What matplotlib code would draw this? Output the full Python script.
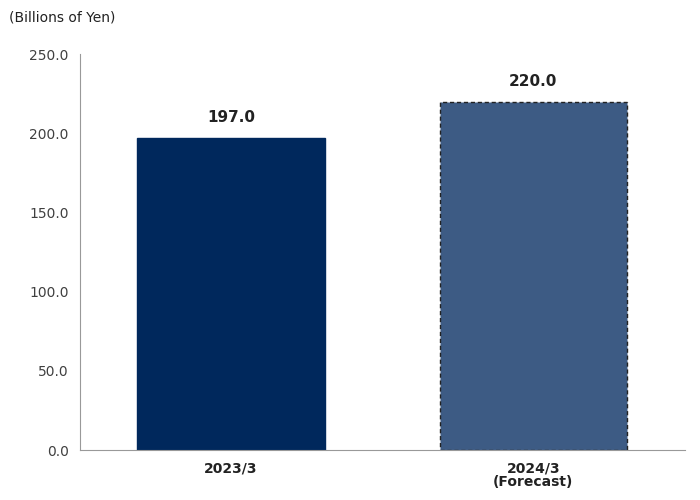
import matplotlib
matplotlib.use("Agg")
import matplotlib.pyplot as plt

categories = ["2023/3", "2024/3\n(Forecast)"]
values = [197.0, 220.0]
yticks = [0.0, 50.0, 100.0, 150.0, 200.0, 250.0]

fig = plt.figure(figsize=(7, 5), dpi=100)
ax = fig.add_axes([0.114, 0.1, 0.864, 0.792])
x = list(range(len(categories)))
colors = ["#00285C", "#3D5B84"]
edges = ["#00285C", "#222222"]
styles = ["solid", (0, (3, 2))]
for xi, v, c, e, ls in zip(x, values, colors, edges, styles):
    ax.bar(xi, v, width=0.62, color=c, edgecolor=e, linestyle=ls, linewidth=1.0)
    ax.text(xi, v + 8, f"{v:.1f}", ha="center", va="bottom", fontsize=11, fontweight="bold", color="#222222")
ax.set_xlim(-0.5, 1.5)
ax.set_ylim(0, 250)
ax.set_yticks(yticks)
ax.set_yticklabels([f"{t:.1f}" for t in yticks], color="#404040", fontsize=10)
ax.set_xticks(x)
ax.set_xticklabels(categories, fontsize=10, fontweight="bold", color="#222222", linespacing=1.0)
for s in ["top", "right"]:
    ax.spines[s].set_visible(False)
ax.spines["left"].set_color("#999999")
ax.spines["bottom"].set_color("#999999")
ax.tick_params(axis="y", length=0, pad=8)
ax.tick_params(axis="x", length=0, pad=8)
fig.text(0.013, 0.965, "(Billions of Yen)", fontsize=10, color="#222222", va="center")
fig.savefig("out.png", dpi=100)
